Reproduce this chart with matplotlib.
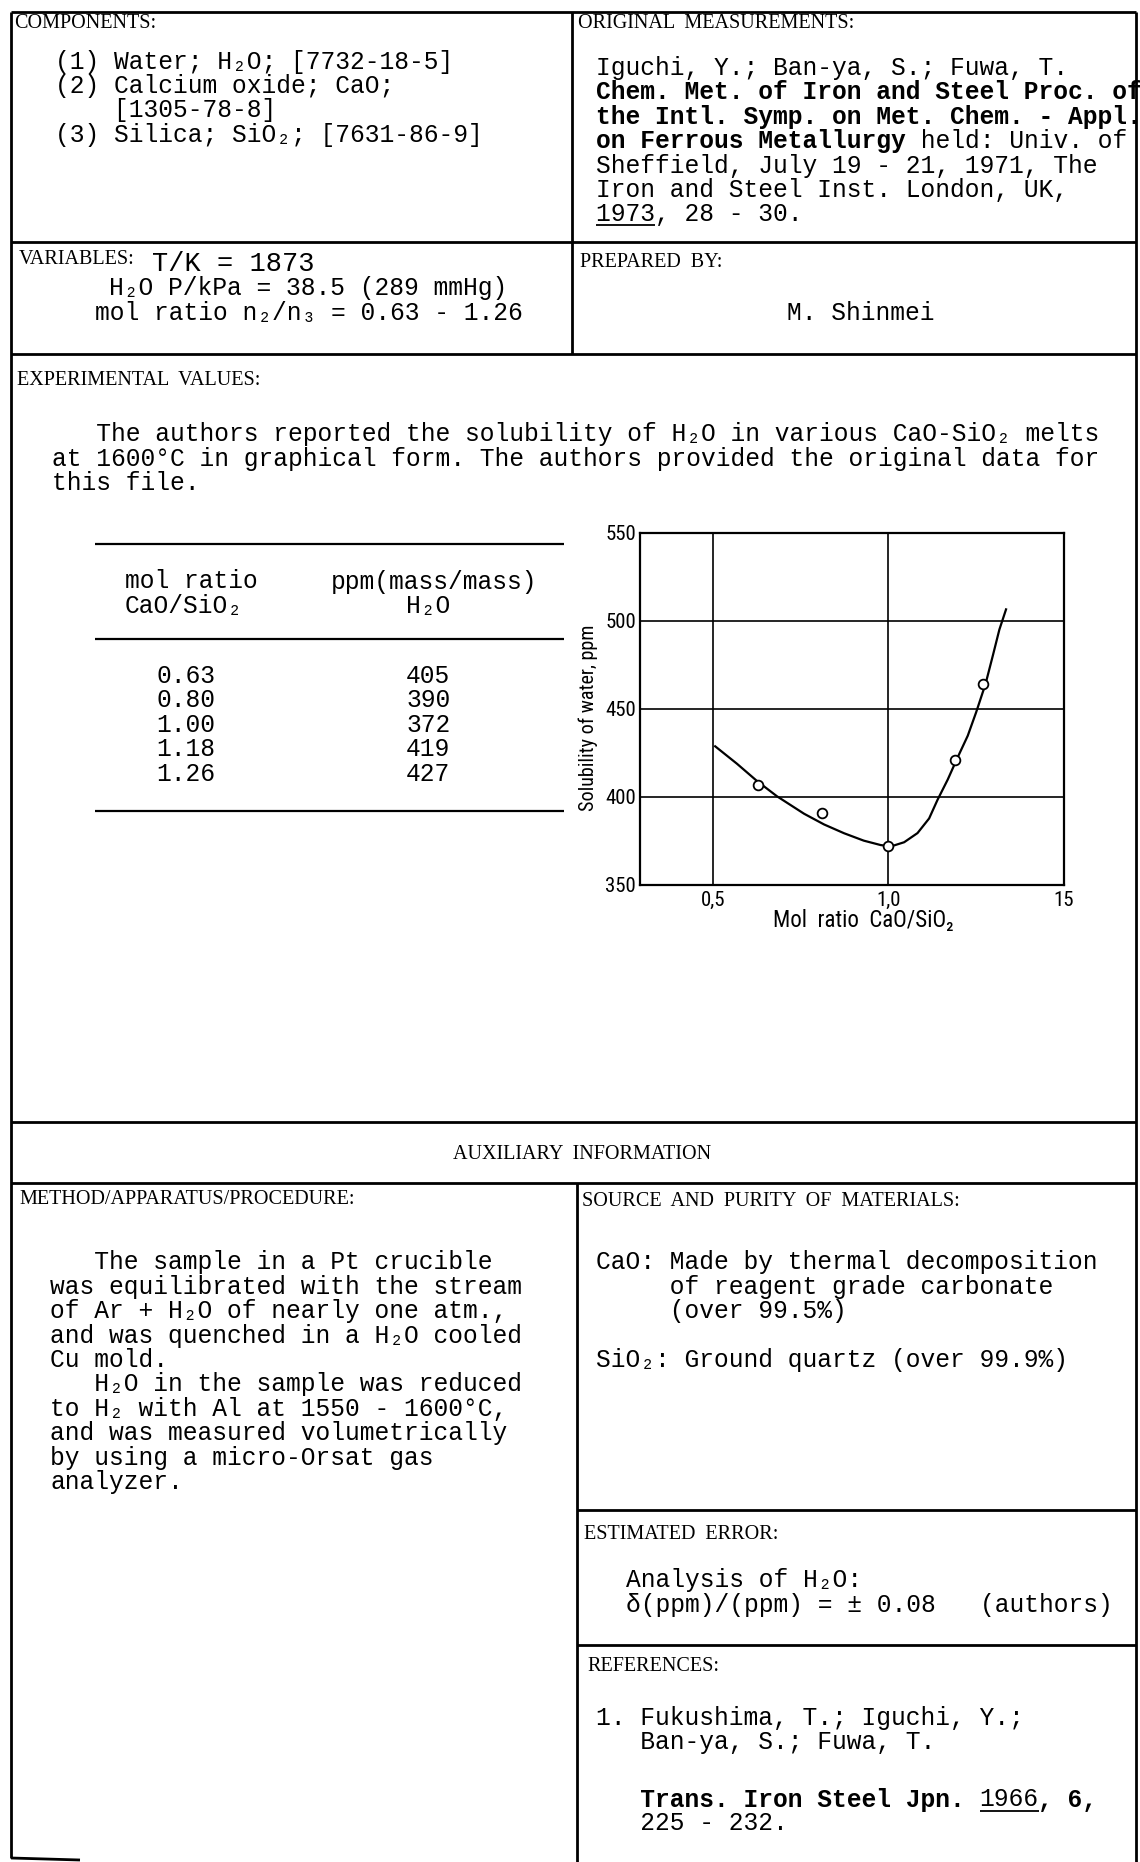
import matplotlib
matplotlib.use("Agg")
import matplotlib.pyplot as plt
from matplotlib import font_manager

# table as printed on the sheet
mol_ratio = [0.63, 0.80, 1.00, 1.18, 1.26]
ppm_h2o = [405, 390, 372, 419, 427]

# open circles as they sit on the graph
graph_x = [0.63, 0.81, 1.00, 1.19, 1.27]
graph_y = [407, 391, 372, 421, 464]

# hand drawn curve
curve_x = [0.507, 0.569, 0.626, 0.683, 0.760, 0.817, 0.874, 0.930, 0.978, 1.007, 1.045,
           1.083, 1.116, 1.140, 1.169, 1.197, 1.226, 1.250, 1.277, 1.298, 1.316, 1.335]
curve_y = [428.8, 418.9, 409.1, 400.4, 390.5, 384.4, 379.4, 375.2, 372.7, 371.9, 374.3,
           379.5, 387.8, 398.4, 409.9, 422.4, 434.8, 448.2, 464.5, 480.8, 495.1, 506.6]

x_ticks = [0.5, 1.0, 1.5]
x_tick_labels = ["0,5", "1,0", "15"]
y_ticks = [350, 400, 450, 500, 550]

components = ["(1) Water; H₂O; [7732-18-5]",
              "(2) Calcium oxide; CaO;",
              "    [1305-78-8]",
              "(3) Silica; SiO₂; [7631-86-9]"]
intro = ["   The authors reported the solubility of H₂O in various CaO-SiO₂ melts",
         "at 1600°C in graphical form. The authors provided the original data for",
         "this file."]
method = ["   The sample in a Pt crucible",
          "was equilibrated with the stream",
          "of Ar + H₂O of nearly one atm.,",
          "and was quenched in a H₂O cooled",
          "Cu mold.",
          "   H₂O in the sample was reduced",
          "to H₂ with Al at 1550 - 1600°C,",
          "and was measured volumetrically",
          "by using a micro-Orsat gas",
          "analyzer."]
source = ["CaO: Made by thermal decomposition",
          "     of reagent grade carbonate",
          "     (over 99.5%)",
          "",
          "SiO₂: Ground quartz (over 99.9%)"]

W, H = 1140, 1862
fig = plt.figure(figsize=(W / 100, H / 100), dpi=100)
pg = fig.add_axes([0, 0, 1, 1])
pg.set_xlim(0, W)
pg.set_ylim(H, 0)
pg.axis("off")

have = {f.name for f in font_manager.fontManager.ttflist}
NARROW = next((n for n in ["Liberation Sans Narrow", "Roboto Condensed", "DejaVu Sans"]
               if n in have), "DejaVu Sans")
k = 1.0 if NARROW != "DejaVu Sans" else 0.8

MONO = ["Liberation Mono", "DejaVu Sans Mono"]
SERIF = ["Liberation Serif", "DejaVu Serif"]
PITCH = 14.75
FS = PITCH / 0.6 * 0.72
LEAD = 24.4


def head(x, y, s, ha="left"):
    pg.text(x, y, s.replace(" ", "  "), family=SERIF, fontsize=14.5, va="center", ha=ha)


def typed(x, y, lines, size=FS):
    for i, s in enumerate(lines):
        pg.text(x, y + i * LEAD, s, family=MONO, fontsize=size, va="baseline")


def seg(x, y, parts):
    # pieces of one typed line, some bold
    for s, b in parts:
        pg.text(x, y, s, family=MONO, fontsize=FS, va="baseline",
                fontweight="bold" if b else "normal")
        x += len(s) * PITCH


def line(xs, ys, lw=2.0):
    pg.plot(xs, ys, color="k", lw=lw, solid_capstyle="butt")


# frame
L, R, T, B = 11, 1136, 12, 1858
for y in [T, 242, 354, 1122, 1183]:
    line([L, R], [y, y])
for y in [1510, 1645]:
    line([577, R], [y, y])
line([L, 80], [B, B + 2])
line([L, L], [T, B])
line([R, R], [T, H])
line([572, 572], [T, 354])
line([577, 577], [1183, H])

# top boxes
head(14, 24, "COMPONENTS:")
typed(55, 68.5, components)
head(578, 24, "ORIGINAL MEASUREMENTS:")
typed(596, 75, ["Iguchi, Y.; Ban-ya, S.; Fuwa, T."])
seg(596, 75 + LEAD, [("Chem. Met. of Iron and Steel Proc. of", True)])
seg(596, 75 + 2 * LEAD, [("the Intl. Symp. on Met. Chem. - Appl.", True)])
seg(596, 75 + 3 * LEAD, [("on Ferrous Metallurgy", True), (" held: Univ. of", False)])
typed(596, 75 + 4 * LEAD, ["Sheffield, July 19 - 21, 1971, The",
                           "Iron and Steel Inst. London, UK,",
                           "1973, 28 - 30."])
line([596, 596 + 4 * PITCH], [75 + 6 * LEAD + 4] * 2, lw=1.3)

head(19, 260, "VARIABLES:")
typed(152, 271, ["T/K = 1873"], size=FS * 1.1)
typed(109, 295, ["H₂O P/kPa = 38.5 (289 mmHg)"])
typed(95, 320, ["mol ratio n₂/n₃ = 0.63 - 1.26"])
head(580, 262.5, "PREPARED BY:")
pg.text(861, 320, "M. Shinmei", family=MONO, fontsize=FS, va="baseline", ha="center")

# experimental values
head(17, 380.5, "EXPERIMENTAL VALUES:")
typed(52, 441.5, intro)

for y in [544, 639, 811]:
    line([95, 564], [y, y], lw=1.6)
typed(125, 588.5, ["mol ratio", "CaO/SiO₂"])
typed(331, 588.5, ["ppm(mass/mass)"])
typed(406, 588.5 + LEAD, ["H₂O"])
typed(156, 683, [f"{r:.2f}" for r in mol_ratio])
typed(406, 683, [f"{p:d}" for p in ppm_h2o])

# graph
ax = fig.add_axes([640 / W, 1 - 885 / H, 424 / W, 352 / H])
ax.plot(curve_x, curve_y, color="k", lw=1.6)
ax.plot(graph_x, graph_y, "o", mfc="white", mec="k", ms=7, mew=1.3)
ax.set_xlim(0.293, 1.5)
ax.set_ylim(350, 550)
ax.set_xticks(x_ticks)
ax.set_xticklabels(x_tick_labels)
ax.set_yticks(y_ticks)
ax.tick_params(length=0, labelsize=15 * k)
ax.tick_params(axis="x", pad=4)
ax.tick_params(axis="y", pad=3)
for t in ax.get_xticklabels() + ax.get_yticklabels():
    t.set_family(NARROW)
ax.grid(True, color="k", lw=1.2)
for sp in ax.spines.values():
    sp.set_linewidth(1.6)
ax.set_ylabel("Solubility of water, ppm", fontsize=14.5 * k, family=NARROW)
ax.yaxis.set_label_coords(-0.10, 0.474)
ax.set_xlabel("Mol  ratio  CaO/SiO₂", fontsize=16.5 * k, family=NARROW)
ax.xaxis.set_label_coords((863 - 640) / 424, -0.068)

# auxiliary information
head(582, 1154.5, "AUXILIARY INFORMATION", ha="center")
head(19, 1199.5, "METHOD/APPARATUS/PROCEDURE:")
typed(50, 1269.5, method)
head(582, 1201.5, "SOURCE AND PURITY OF MATERIALS:")
typed(596, 1269.5, source)
head(584, 1534.5, "ESTIMATED ERROR:")
typed(626, 1587.5, ["Analysis of H₂O:", "δ(ppm)/(ppm) = ± 0.08   (authors)"])
head(587, 1666.5, "REFERENCES:")
typed(596, 1724.5, ["1. Fukushima, T.; Iguchi, Y.;", "   Ban-ya, S.; Fuwa, T."])
seg(596, 1806.5, [("   Trans. Iron Steel Jpn. ", True), ("1966", False), (", 6,", True)])
typed(596, 1830.5, ["   225 - 232."])
line([596 + 26 * PITCH, 596 + 30 * PITCH], [1810.5, 1810.5], lw=1.3)

fig.savefig("out.png", dpi=100, facecolor="white")
